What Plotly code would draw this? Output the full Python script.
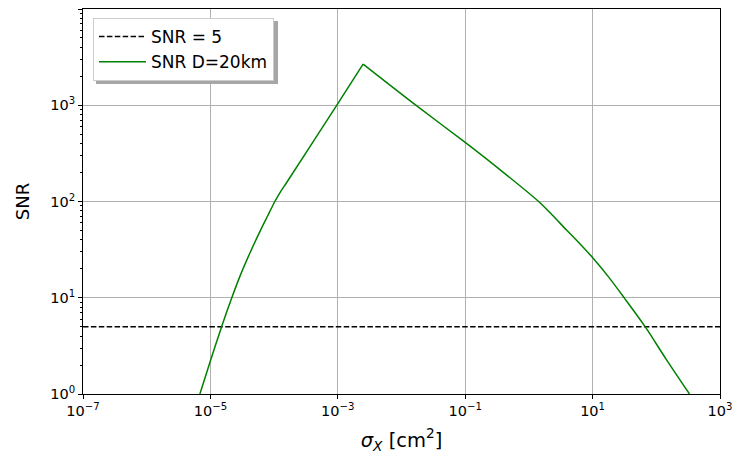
import plotly.graph_objects as go

# Data (sigma_X in cm^2, SNR)
sigma_x = [6.84e-6, 1.007e-5, 1.50e-5, 2.153e-5, 2.904e-5, 4.169e-5, 6.353e-5,
           7.943e-5, 1.028e-4, 1.259e-4, 1.585e-4, 9.55e-4, 2.495e-3,
           1.718e-2, 0.1, 0.3162, 1.422, 2.344, 3.864, 6.310, 10.12, 17.78,
           31.77, 67.14, 143.2, 331.9]
snr_20km = [1.0, 2.24, 5.01, 9.86, 16.67, 29.17, 52.97,
            71.12, 100.0, 125.9, 158.5, 990.8, 2679.0,
            990.8, 411.1, 226.5, 100.0, 71.94, 50.82, 36.39, 25.88, 16.48,
            9.863, 4.977, 2.291, 1.0]
threshold_x = [1e-7, 1e3]
threshold_snr = [5, 5]

x_tick_exps = [-7, -5, -3, -1, 1, 3]
y_tick_exps = [0, 1, 2, 3, 4]


def sup(e):
    return "10<sup>" + str(e).replace("-", "\u2212") + "</sup>"


font = "DejaVu Sans"
green = "#008000"
peak = snr_20km.index(max(snr_20km))

fig = go.Figure()
fig.add_trace(go.Scatter(x=threshold_x, y=threshold_snr, mode="lines",
                         name="SNR = 5", legendgroup="a",
                         line=dict(color="black", width=1.5,
                                   dash="5.5px,2.4px")))
# rising and falling branches drawn as smooth curves meeting at a sharp peak
fig.add_trace(go.Scatter(x=sigma_x[:peak + 1], y=snr_20km[:peak + 1],
                         mode="lines", name="SNR D=20km", legendgroup="b",
                         line=dict(color=green, width=1.5, shape="spline",
                                   smoothing=0.8)))
fig.add_trace(go.Scatter(x=sigma_x[peak:], y=snr_20km[peak:],
                         mode="lines", name="SNR D=20km", legendgroup="b",
                         showlegend=False,
                         line=dict(color=green, width=1.5, shape="spline",
                                   smoothing=0.8)))

minor_y = [m * 10 ** k for k in range(0, 4) for m in range(2, 10)]

# plot area in pixels: x 83..720, y 9..394.5
PW, PH = 637.0, 385.5


def px(xp):
    return (xp - 83) / PW


def py(yp):
    return (394.5 - yp) / PH


fig.add_shape(type="rect", xref="paper", yref="paper",
              x0=px(96), x1=px(278), y0=py(84), y1=py(21),
              fillcolor="#a6a6a6", line=dict(width=0), layer="above")

fig.update_layout(
    width=735, height=464,
    margin=dict(l=83, r=15, t=9, b=69.5),
    paper_bgcolor="white", plot_bgcolor="white",
    font=dict(family=font, size=14.5, color="black"),
    showlegend=True,
    legend=dict(x=px(93), y=py(18), xanchor="left", yanchor="top",
                bgcolor="white", bordercolor="#cccccc", borderwidth=1,
                tracegroupgap=0, traceorder="grouped", itemwidth=47,
                font=dict(family=font, size=17)),
    xaxis=dict(type="log", range=[-7, 3], automargin=False,
               tickvals=[10 ** e for e in x_tick_exps],
               ticktext=[sup(e) for e in x_tick_exps],
               showgrid=True, gridcolor="#b0b0b0", gridwidth=1,
               showline=True, linecolor="black", linewidth=1, mirror=True,
               ticks="outside", ticklen=4, tickcolor="black",
               zeroline=False, tickfont=dict(size=14.5),
               title=dict(text="<i>σ<sub>X</sub></i> [cm<sup>2</sup>]",
                          font=dict(size=19.5), standoff=14)),
    yaxis=dict(type="log", range=[0, 4], automargin=False,
               tickvals=[10 ** e for e in y_tick_exps],
               ticktext=[sup(e) for e in y_tick_exps],
               showgrid=True, gridcolor="#b0b0b0", gridwidth=1,
               showline=True, linecolor="black", linewidth=1, mirror=True,
               ticks="outside", ticklen=4, tickcolor="black",
               zeroline=False, tickfont=dict(size=14.5),
               minor=dict(tickvals=minor_y, ticks="outside", ticklen=2,
                          tickcolor="black", showgrid=False),
               title=dict(text="SNR", font=dict(size=18), standoff=15)),
)

fig.write_html("out.html")
